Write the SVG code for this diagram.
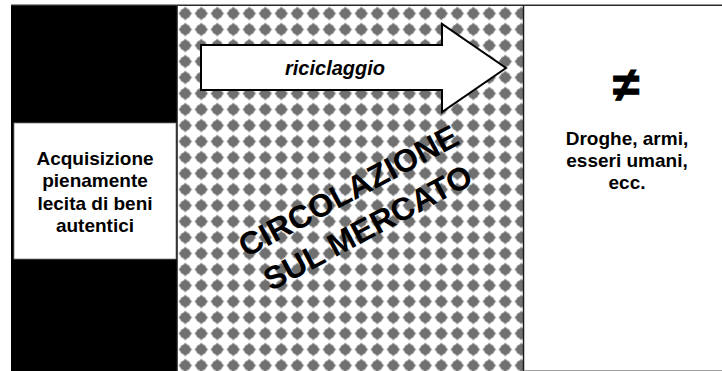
<svg xmlns="http://www.w3.org/2000/svg" width="722" height="371" viewBox="0 0 722 371">
  <defs>
    <pattern id="diamonds" patternUnits="userSpaceOnUse" x="177.3" y="5.5" width="16" height="16">
      <rect width="16" height="16" fill="#ffffff"/>
      <path d="M8,1.3 L9.9,3.2 L11.9,4.1 L12.8,6.1 L14.7,8 L12.8,9.9 L11.9,11.9 L9.9,12.8 L8,14.7 L6.1,12.8 L4.1,11.9 L3.2,9.9 L1.3,8 L3.2,6.1 L4.1,4.1 L6.1,3.2 Z" fill="#707070"/>
    </pattern>
    <style>
      .lbl { font-family: "Liberation Sans", Arial, sans-serif; font-weight: bold; fill: #000; text-anchor: middle; }
      .side { font-size: 19px; }
      .big { font-size: 32px; }
      .ric { font-size: 20px; font-style: italic; }
      .neq { font-size: 48px; stroke: #000; stroke-width: 1.2px; }
    </style>
  </defs>

  <rect x="0" y="0" width="722" height="371" fill="#ffffff"/>

  <g id="left-panel">
    <rect x="11" y="6" width="166" height="365" fill="#000000"/>
  </g>

  <g id="left-box">
    <rect x="14" y="123" width="162" height="136" fill="#ffffff" stroke="#7a7a7a" stroke-width="0.8"/>
    <text class="lbl side" x="95" y="164.5">Acquisizione</text>
    <text class="lbl side" x="95" y="187">pienamente</text>
    <text class="lbl side" x="95" y="209.5">lecita di beni</text>
    <text class="lbl side" x="95" y="232">autentici</text>
  </g>

  <g id="center-panel">
    <rect x="177" y="5" width="347" height="366" fill="url(#diamonds)"/>
    <line x1="177.3" y1="5" x2="177.3" y2="371" stroke="#3a3a3a" stroke-width="1.2"/>
  </g>

  <g id="right-panel">
    <rect x="524" y="6" width="198" height="364" fill="#ffffff"/>
    <line x1="523.5" y1="5" x2="523.5" y2="371" stroke="#1a1a1a" stroke-width="1.5"/>
    <line x1="524" y1="370.5" x2="722" y2="370.5" stroke="#a0a0a0" stroke-width="1"/>
    <text class="lbl neq" x="626" y="101">≠</text>
    <text class="lbl side" x="627" y="145">Droghe, armi,</text>
    <text class="lbl side" x="627" y="167">esseri umani,</text>
    <text class="lbl side" x="627" y="189">ecc.</text>
  </g>

  <g id="frame">
    <line x1="11" y1="5.3" x2="722" y2="5.3" stroke="#2a2a2a" stroke-width="1.5"/>
  </g>

  <g id="connectors">
    <path d="M201,45 L442,45 L442,24 L506,68 L442,112 L442,90 L201,90 Z" fill="#ffffff" stroke="#000000" stroke-width="2" stroke-linejoin="miter"/>
    <text class="lbl ric" x="335" y="75">riciclaggio</text>
  </g>

  <g id="circolazione" transform="translate(358,209) rotate(-28)">
    <text class="lbl big" x="0" y="-9.5">CIRCOLAZIONE</text>
    <text class="lbl big" x="0" y="32">SUL MERCATO</text>
  </g>
</svg>
